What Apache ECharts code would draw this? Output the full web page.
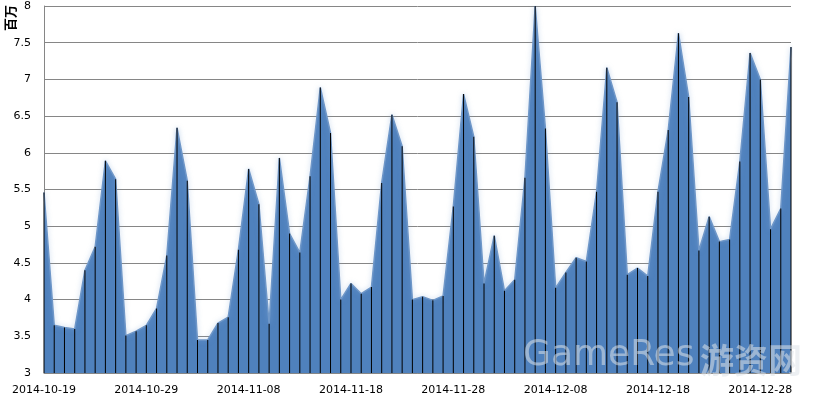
<!DOCTYPE html>
<html><head><meta charset="utf-8">
<script src="https://cdn.jsdelivr.net/npm/echarts@6/dist/echarts.min.js"></script>
<style>html,body{margin:0;padding:0;background:#fff}#c{width:830px;height:396px}</style>
</head><body><div id="c"></div>
<script>
const dates = [
'2014-10-19','2014-10-20','2014-10-21','2014-10-22','2014-10-23','2014-10-24','2014-10-25','2014-10-26','2014-10-27','2014-10-28',
'2014-10-29','2014-10-30','2014-10-31','2014-11-01','2014-11-02','2014-11-03','2014-11-04','2014-11-05','2014-11-06','2014-11-07',
'2014-11-08','2014-11-09','2014-11-10','2014-11-11','2014-11-12','2014-11-13','2014-11-14','2014-11-15','2014-11-16','2014-11-17',
'2014-11-18','2014-11-19','2014-11-20','2014-11-21','2014-11-22','2014-11-23','2014-11-24','2014-11-25','2014-11-26','2014-11-27',
'2014-11-28','2014-11-29','2014-11-30','2014-12-01','2014-12-02','2014-12-03','2014-12-04','2014-12-05','2014-12-06','2014-12-07',
'2014-12-08','2014-12-09','2014-12-10','2014-12-11','2014-12-12','2014-12-13','2014-12-14','2014-12-15','2014-12-16','2014-12-17',
'2014-12-18','2014-12-19','2014-12-20','2014-12-21','2014-12-22','2014-12-23','2014-12-24','2014-12-25','2014-12-26','2014-12-27',
'2014-12-28','2014-12-29','2014-12-30','2014-12-31'
];
const values = [
5.46, 3.65, 3.62, 3.60, 4.40, 4.72, 5.89, 5.64, 3.51, 3.57,
3.65, 3.88, 4.60, 6.34, 5.62, 3.45, 3.45, 3.68, 3.76, 4.68,
5.78, 5.30, 3.67, 5.93, 4.90, 4.64, 5.68, 6.89, 6.27, 4.00,
4.22, 4.08, 4.17, 5.59, 6.52, 6.09, 4.00, 4.04, 3.99, 4.05,
5.27, 6.80, 6.22, 4.22, 4.87, 4.12, 4.27, 5.66, 8.00, 6.33,
4.16, 4.37, 4.57, 4.52, 5.47, 7.16, 6.69, 4.34, 4.43, 4.32,
5.47, 6.31, 7.63, 6.76, 4.67, 5.13, 4.79, 4.82, 5.88, 7.36,
7.00, 4.96, 5.24, 7.44
];
const unitLabel = '百万';
const yMin = 3, yMax = 8, yStep = 0.5;

const chart = echarts.init(document.getElementById('c'), null, {renderer: 'canvas'});
const font = 'DejaVu Sans';
chart.setOption({
  animation: false,
  backgroundColor: '#ffffff',
  grid: {left: 44, right: 39, top: 6, bottom: 23, containLabel: false},
  xAxis: {
    type: 'category', data: dates, boundaryGap: false,
    axisLine: {lineStyle: {color: '#868686', width: 1}},
    axisTick: {show: false},
    axisLabel: {interval: 9, color: '#000', fontFamily: font, fontSize: 11, margin: 12},
    splitLine: {show: false}
  },
  yAxis: {
    type: 'value', min: yMin, max: yMax, interval: yStep,
    axisLine: {show: true, lineStyle: {color: '#868686', width: 1}},
    axisTick: {show: false},
    axisLabel: {color: '#000', fontFamily: font, fontSize: 11, margin: 13},
    splitLine: {lineStyle: {color: '#868686', width: 1}}
  },
  series: [
    {
      type: 'line', data: values, symbol: 'none', z: 2,
      lineStyle: {color: '#6f97c8', width: 1.5, shadowColor: 'rgba(120,160,210,0.6)', shadowBlur: 5},
      areaStyle: {color: '#4f81bd', opacity: 1, origin: 'start'}
    },
    {
      type: 'bar', data: values, barWidth: 1, z: 3,
      itemStyle: {color: '#000000'}
    }
  ],
  graphic: [
    {type: 'text', x: 10, y: 18, rotation: Math.PI / 2, z: 10,
     style: {text: unitLabel, align: 'center', verticalAlign: 'middle', fontSize: 13, fontWeight: 'bold', fontFamily: '"Noto Sans CJK SC"', fill: '#000'}},
    {type: 'text', x: 523, y: 374, z: 10, silent: true,
     style: {text: 'GameRes', align: 'left', verticalAlign: 'bottom', fontSize: 36, fontFamily: font, fill: 'rgba(220,225,232,0.55)'}},
    {type: 'text', x: 700, y: 377, z: 10, silent: true,
     style: {text: '游资网', align: 'left', verticalAlign: 'bottom', fontSize: 34, fontWeight: 'bold', fontFamily: '"Noto Sans CJK SC"', fill: 'rgba(220,225,232,0.55)'}}
  ]
});
</script></body></html>
